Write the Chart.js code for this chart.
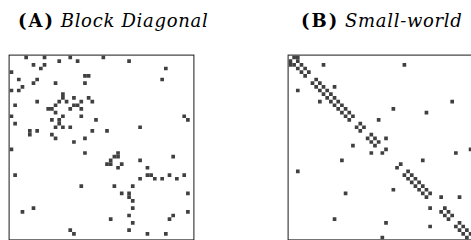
<!DOCTYPE html>
<html>
<head>
<meta charset="utf-8">
<script src="https://cdn.jsdelivr.net/npm/chart.js"></script>
<style>
  body { margin: 0; background: #fff; width: 471px; height: 240px; overflow: hidden; position: relative; }
  .title { position: absolute; font-family: "DejaVu Serif", serif; font-size: 18px; line-height: 1; white-space: nowrap; color: #000; }
  .title b { font-weight: bold; letter-spacing: 2px; }
  .title i { font-style: italic; letter-spacing: 0.7px; }
  canvas { position: absolute; }
</style>
</head>
<body>
<div class="title" id="titleA" style="left:18px; top:12px;"><b>(A)</b> <i>Block Diagonal</i></div>
<div class="title" id="titleB" style="left:301px; top:12px;"><b>(B)</b> <i>Small-world</i></div>
<canvas id="chartA" width="189" height="189" style="left:7px; top:53px;"></canvas>
<canvas id="chartB" width="189" height="189" style="left:286px; top:53px;"></canvas>
<script>
// numero de nodos de cada matriz
const nodes = 50;

const blockEdges = [
  [0,4],[0,9],[0,16],[0,25],[1,13],[1,18],[1,32],[2,6],[2,9],[3,8],[3,42],
  [5,20],[5,21],[6,7],[6,41],[7,12],[7,20],[10,14],[11,14],[11,17],[11,21],
  [12,13],[12,15],[12,19],[12,22],[13,17],[13,18],[14,16],[14,19],[16,19],[16,47],
  [17,23],[17,48],[19,35],[20,22],[20,26],[26,29],[27,28],[27,29],[27,44],[28,35],
  [29,30],[30,37],[32,37],[32,38],[32,43],[32,47],[33,35],[33,39],[33,41],[33,45],
  [37,48],[42,48],[43,44]
];

// aristas de la matriz B (anillo + atajos)
const smallWorldEdges = [
  [0,1],[1,2],[0,2],[2,3],[3,4],[4,5],[6,7],[7,8],[8,9],[9,10],[10,11],[11,12],
  [12,13],[13,14],[14,15],[15,16],[16,17],[18,19],[19,20],[21,22],[22,23],[23,24],
  [25,26],[29,30],[31,32],[32,33],[33,34],[34,35],[35,36],[36,37],[37,38],
  [41,42],[42,43],[43,44],[45,46],[46,47],[47,48],[48,49],
  [2,9],[2,31],[8,12],[12,44],[14,28],[15,37],[17,24],[22,26],[26,45],[28,36],
  [38,41],[38,46],[25,49]
];

// pasa las aristas a puntos (x = columna, y = fila)
function toPoints(edges) {
  const pts = [];
  edges.forEach(e => {
    pts.push({ x: e[1], y: e[0] });
    pts.push({ x: e[0], y: e[1] });
  });
  return pts;
}

// marco negro alrededor de la matriz
const framePlugin = {
  id: 'frame',
  afterDraw(chart) {
    const a = chart.chartArea;
    const ctx = chart.ctx;
    ctx.save();
    ctx.strokeStyle = '#1a1a1a';
    ctx.lineWidth = 1;
    ctx.strokeRect(a.left - 0.5, a.top - 0.5, a.right - a.left + 1, a.bottom - a.top + 1);
    ctx.restore();
  }
};

// radio del punto para que el cuadrado ocupe una celda
function cellRadius(c) {
  if (!c.chart.chartArea) return 2.6;
  return (c.chart.chartArea.width / nodes) / Math.SQRT1_2 / 2;
}

function makeMatrix(id, edges) {
  const ctx = document.getElementById(id).getContext('2d');
  return new Chart(ctx, {
    type: 'scatter',
    data: {
      datasets: [{
        data: toPoints(edges),
        backgroundColor: '#404040',
        borderWidth: 0,
        pointStyle: 'rect',
        pointRadius: cellRadius,
        pointHoverRadius: cellRadius
      }]
    },
    options: {
      responsive: false,
      animation: false,
      devicePixelRatio: 1,
      layout: { padding: 1 },
      scales: {
        x: { type: 'linear', min: -0.5, max: nodes - 0.5, display: false },
        y: { type: 'linear', min: -0.5, max: nodes - 0.5, reverse: true, display: false }
      },
      plugins: {
        legend: { display: false },
        tooltip: { enabled: false }
      }
    },
    plugins: [framePlugin]
  });
}

makeMatrix('chartA', blockEdges);
makeMatrix('chartB', smallWorldEdges);
</script>
</body>
</html>
